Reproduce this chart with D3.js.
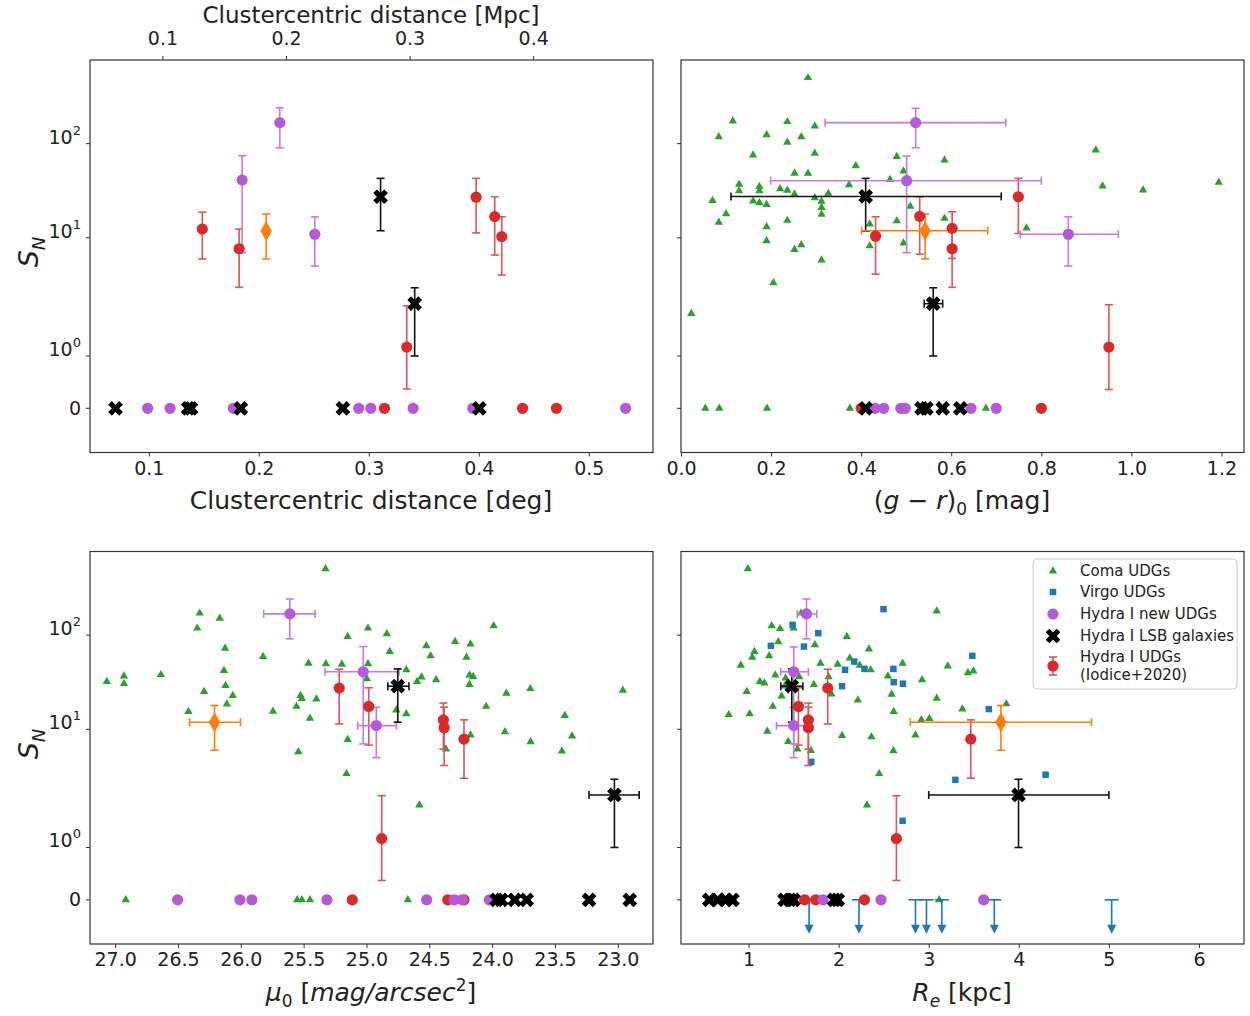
<!DOCTYPE html>
<html>
<head>
<meta charset="utf-8">
<title>Specific frequency of GCs in Hydra I UDGs</title>
<script src="https://d3js.org/d3.v7.min.js"></script>
<style>
body { margin: 0; background: #fff; }
svg text { font-family: "DejaVu Sans", sans-serif; fill: #222; }
</style>
</head>
<body>
<div id="chart"></div>
<script>
// ---- data: [x, S_N, S_N low, S_N high, x low, x high] ----
// panel 1: clustercentric distance [deg]
const iodiceDist = [[0.1486,12.4,5.96,18.7],[0.1821,7.66,2.98,12.4],[0.3345,1.17,0.37,1.96],[0.3976,27.0,11.3,42.8],
  [0.4145,16.8,6.56,27.3],[0.4209,10.3,4.03,16.7],[0.3142,0],[0.4398,0],[0.4706,0]];
const newUdgDist = [[0.1848,41.1,6.95,74.4],[0.2191,167,90.4,240],[0.2509,10.9,5.02,16.7],
  [0.0989,0],[0.1193,0],[0.1769,0],[0.2908,0],[0.3018,0],[0.3403,0],[0.3945,0],[0.5335,0]];
const lsbDist = [[0.3107,27.3,11.9,42.8],[0.3417,2.0,1.0,2.95],
  [0.0697,0],[0.1357,0],[0.1384,0],[0.1836,0],[0.2764,0],[0.4005,0]];
const orangeDist = [[0.2067,11.8,5.96,17.9]];

// panel 2: (g-r)_0 [mag]
const comaColor = [[0.282,501],[0.115,174],[0.236,171],[0.297,154],[0.084,118],[0.190,124],[0.267,118],[0.236,103],
  [0.921,85.4],[0.160,75.6],[0.297,78.8],[0.479,72.7],[0.585,66.9],[0.388,58.2],[0.252,48.4],[0.282,48.4],[0.494,51],
  [0.129,37],[0.174,35],[0.129,31.6],[0.174,31.6],[0.220,33.2],[0.236,32],[0.252,29.2],[0.327,29.6],[0.373,36.5],
  [0.464,41.6],[0.936,35.5],[1.026,32.1],[1.194,38.7],[0.070,24.8],[0.160,24.6],[0.174,23.5],[0.190,22.6],[0.297,26.6],
  [0.312,24.4],[0.312,21.0],[0.312,17.7],[0.100,18.0],[0.084,14.6],[0.236,15.3],[0.190,13.1],[0.419,14.0],[0.479,15.1],
  [0.509,21.6],[0.585,16.1],[0.767,12.7],[0.190,9.3],[0.267,8.4],[0.252,7.5],[0.419,8.2],[0.494,8.8],[0.312,5.8],
  [0.205,3.33],[0.023,1.81],[0.054,0],[0.085,0],[0.191,0],[0.375,0],[0.677,0]];
const iodiceColor = [[0.749,27.3,11.1,42.8],[0.530,16.9,6.7,27.3],[0.432,10.4,4.12,16.7],[0.602,12.6,6.05,18.9],
  [0.602,7.66,2.98,12.2],[0.950,1.17,0.36,1.98],[0.40,0],[0.80,0]];
const newUdgColor = [[0.521,167,90.4,237,0.320,0.721],[0.501,40.4,6.95,73.7,0.199,0.800],[0.860,10.9,5.02,16.7,0.753,0.971],
  [0.431,0],[0.450,0],[0.488,0],[0.498,0],[0.644,0],[0.700,0]];
const lsbColor = [[0.410,27.5,11.8,42.8,0.111,0.711],[0.560,2.0,1.0,2.95,0.540,0.581],
  [0.41,0],[0.534,0],[0.545,0],[0.581,0],[0.62,0]];
const orangeColor = [[0.542,11.9,5.98,17.9,0.401,0.681]];

// panel 3: mu_0 [mag/arcsec^2]
const comaMu = [[25.326,506],[26.327,171],[26.168,151],[26.347,118.5],[24.988,118.5],[25.150,96.5],[24.838,103],[23.988,125.6],
  [26.125,72.5],[25.823,59.2],[24.295,85.4],[24.172,80.5],[24.524,77],[24.815,66.9],[24.490,60.3],[24.204,58.2],[25.461,50.3],
  [25.323,49.6],[25.196,49],[24.988,49.6],[24.683,42.8],[26.134,42],[27.066,32.2],[26.930,36.7],[26.930,30.5],[26.636,38],
  [26.122,29.2],[26.292,25.2],[26.064,22.8],[26.111,18.5],[26.417,15.4],[25.525,22.8],[25.514,21.2],[25.399,21],[25.557,17.5],
  [25.744,15.5],[25.450,13.1],[24.997,34.3],[24.597,32.2],[24.562,35.9],[24.446,33.5],[24.180,37.7],[24.151,36.3],[24.180,29.9],
  [23.887,24.1],[23.696,27],[22.960,26],[24.763,16],[24.683,14.6],[24.048,17.5],[23.422,14],[23.898,9.4],[24.172,8.7],
  [23.694,7.36],[23.364,8.5],[23.445,5.86],[25.150,7.8],[25.542,5.76],[25.159,3.38],[24.368,6.16],[24.579,1.81],
  [26.916,0],[25.551,0],[25.514,0],[25.450,0],[24.671,0]];
const iodiceMu = [[25.217,27.4,11.4,43.5],[24.982,17.5,6.8,27.6],[24.388,12.6,6.16,19.0],[24.382,10.4,4.13,17.2],
  [24.224,7.87,3.03,12.6],[24.879,1.17,0.37,1.99],[25.113,0],[24.353,0],[24.224,0]];
const newUdgMu = [[25.610,168,91.4,242,25.818,25.409],[25.026,40.8,7.0,75.6,25.330,24.741],[24.922,10.96,5.0,17.2,25.070,24.761],
  [26.503,0],[26.007,0],[25.912,0],[25.315,0],[24.521,0],[24.301,0],[24.238,0],[24.022,0]];
const lsbMu = [[24.751,28.7,11.9,43.8,24.830,24.662],[23.027,2.01,1.0,2.95,23.229,22.830],
  [23.965,0],[23.927,0],[23.820,0],[23.725,0],[23.229,0],[22.905,0]];
const orangeMu = [[26.209,11.9,6.0,17.9,26.408,26.003]];

// panel 4: R_e [kpc]
const comaRe = [[0.992,506],[1.582,171],[3.089,180],[1.257,125.6],[1.35,117],[1.50,118.5],[2.091,96.5],[1.33,85],[1.737,79],
  [1.065,67],[2.336,71],[1.228,60.3],[1.041,58],[0.914,47.8],[1.798,50.3],[1.989,49],[2.124,57],[2.234,47.8],[2.356,42.8],
  [2.71,50.3],[3.211,47],[3.435,39.8],[3.496,41.6],[1.297,37.7],[1.411,35],[1.562,36],[1.888,36],[2.547,36.7],[1.126,32.2],
  [1.175,31],[1.725,29.9],[1.399,28.7],[2.926,33.5],[0.98,25.2],[1.366,22.6],[1.920,23.7],[2.588,23.5],[3.089,21.3],
  [2.213,20.4],[1.269,17.5],[0.78,14.3],[1.012,14.6],[2.612,15.4],[3.374,16.4],[3.862,18.6],[2.918,12.6],[3.007,13],
  [1.208,9.5],[2.038,8.6],[2.364,8.3],[2.853,8.7],[1.44,7.4],[1.542,6.16],[1.692,5.95],[2.608,5.9],[2.45,3.38],[2.315,1.81],
  [3.117,0]];
const virgoRe = [[2.498,188.9],[1.489,128.6],[1.774,105],[1.248,77],[1.615,75.6],[3.484,60.3],[2.173,52.4],[2.071,42.8],
  [2.287,43.8],[2.608,43.8],[2.612,31.7],[2.714,30.5],[2.038,28.7],[3.667,16.4],[1.696,4.52],[3.296,2.91],[4.298,3.3],[2.71,1.51]];
const virgoUpperLimits = [1.672, 2.226, 2.853, 2.975, 3.146, 3.728, 5.031];
const iodiceRe = [[1.879,27.4,11.4,43.5],[1.554,17.5,6.8,27.6],[1.664,12.6,6.16,19.0],[1.664,10.4,4.13,17.2],
  [3.467,7.87,3.03,12.6],[2.641,1.17,0.37,1.99],[1.623,0],[1.745,0],[2.287,0]];
const newUdgRe = [[1.643,168,91.4,242,1.54,1.757],[1.501,40.8,7.0,75,1.358,1.664],[1.501,10.96,5.0,17.2,1.31,1.70],
  [1.827,0],[2.47,0],[3.61,0]];
const lsbRe = [[1.480,28.7,11.9,43.8,1.358,1.603],[3.997,2.01,1.0,2.95,3.0,5.0],
  [0.564,0],[0.658,0],[0.748,0],[0.821,0],[1.399,0],[1.46,0],[1.5,0],[1.949,0],[1.99,0]];
const orangeRe = [[3.801,11.9,6.0,17.9,2.796,4.807]];

const yTicks = [0, 1, 10, 100];
const yTickExp = ["", "0", "1", "2"];
const distTicks = [0.1, 0.2, 0.3, 0.4, 0.5];
const mpcTicks = [0.1, 0.2, 0.3, 0.4];
const colorTicks = [0, 0.2, 0.4, 0.6, 0.8, 1.0, 1.2];
const muTicks = [27, 26.5, 26, 25.5, 25, 24.5, 24, 23.5, 23];
const reTicks = [1, 2, 3, 4, 5, 6];
const legendItems = ["Coma UDGs", "Virgo UDGs", "Hydra I new UDGs", "Hydra I LSB galaxies", "Hydra I UDGs", "(Iodice+2020)"];

// ---- layout ----
const W = 1250, H = 1016;
const rows = { top: [60, 452.5], bottom: [551.5, 944] };
const cols = { left: [90, 653], right: [681, 1244] };
const U_DOMAIN = [-0.469, 3.698];
const DEG_TO_MPC = 0.89;

const C = {
  green: "#2ca02c", blue: "#1f77b4", purple: "#b45ad6", purpleBar: "#c27ddc",
  red: "#d92a2a", redBar: "#d8575a", black: "#000", orange: "#ff7f0e"
};

// matplotlib style symlog, linthresh 2, linscale 1
const LINTHRESH = 2, LINADJ = 1 / (1 - 1 / 10);
const symlog = v => {
  const a = Math.abs(v);
  return a <= LINTHRESH ? v * LINADJ / LINTHRESH : Math.sign(v) * (LINADJ + Math.log10(a / LINTHRESH));
};

const svg = d3.select("#chart").append("svg").attr("width", W).attr("height", H);

function richText(sel, parts) {
  let shift = 0;
  parts.forEach(p => {
    const target = p.sub ? p.sub : (p.sup ? -p.sup : 0);
    const t = sel.append("tspan").text(p.t).attr("dy", target - shift);
    if (p.italic) t.attr("font-style", "italic");
    if (p.size) t.attr("font-size", p.size);
    shift = target;
  });
}

function makePanel(col, row, xDomain, ticks, fmt) {
  const [x0, x1] = cols[col], [y0, y1] = rows[row];
  const x = d3.scaleLinear().domain(xDomain).range([x0, x1]);
  const yl = d3.scaleLinear().domain(U_DOMAIN).range([y1, y0]);
  const y = v => yl(symlog(v));
  const g = svg.append("g");
  const p = { x, y, g, x0, x1, y0, y1, col };

  // x axis
  const ax = g.append("g").attr("transform", `translate(0,${y1})`)
    .call(d3.axisBottom(x).tickValues(ticks).tickSize(4).tickPadding(5).tickFormat(d3.format(fmt)));
  styleAxis(ax);

  // y ticks
  const yt = g.append("g").selectAll("g").data(yTicks).join("g")
    .attr("transform", d => `translate(${x0},${y(d)})`);
  yt.append("line").attr("x1", -4).attr("x2", 0).attr("stroke", "#333").attr("stroke-width", 1);
  if (col === "left") {
    yt.append("text").attr("x", -9).attr("dy", "0.35em").attr("text-anchor", "end").attr("font-size", 19)
      .each(function (d, i) {
        const s = d3.select(this);
        if (d === 0) s.text("0");
        else richText(s, [{ t: "10" }, { t: yTickExp[i], sup: 9, size: 13 }]);
      });
  }
  return p;
}

function styleAxis(ax) {
  ax.select(".domain").remove();
  ax.selectAll(".tick line").attr("stroke", "#333");
  ax.selectAll(".tick text").attr("font-size", 19).attr("fill", "#222")
    .attr("font-family", "DejaVu Sans, sans-serif");
}

function frame(p) {
  p.g.append("rect").attr("x", p.x0).attr("y", p.y0)
    .attr("width", p.x1 - p.x0).attr("height", p.y1 - p.y0)
    .attr("fill", "none").attr("stroke", "#333").attr("stroke-width", 1.2);
}

function errorBars(p, data, color, cap = 4) {
  const g = p.g.append("g").attr("stroke", color).attr("stroke-width", 1.6).attr("fill", "none");
  const withY = data.filter(d => d.length > 2);
  g.selectAll(".ey").data(withY).join("line")
    .attr("x1", d => p.x(d[0])).attr("x2", d => p.x(d[0]))
    .attr("y1", d => p.y(d[2])).attr("y2", d => p.y(d[3]));
  g.selectAll(".ecap").data(withY.flatMap(d => [[d[0], d[2]], [d[0], d[3]]])).join("line")
    .attr("x1", d => p.x(d[0]) - cap).attr("x2", d => p.x(d[0]) + cap)
    .attr("y1", d => p.y(d[1])).attr("y2", d => p.y(d[1]));
  const withX = data.filter(d => d.length > 4);
  g.selectAll(".ex").data(withX).join("line")
    .attr("x1", d => p.x(d[4])).attr("x2", d => p.x(d[5]))
    .attr("y1", d => p.y(d[1])).attr("y2", d => p.y(d[1]));
  g.selectAll(".excap").data(withX.flatMap(d => [[d[4], d[1]], [d[5], d[1]]])).join("line")
    .attr("x1", d => p.x(d[0])).attr("x2", d => p.x(d[0]))
    .attr("y1", d => p.y(d[1]) - cap).attr("y2", d => p.y(d[1]) + cap);
}

const SYM = {
  tri: d3.symbol(d3.symbolTriangle, 30)(),
  sq: d3.symbol(d3.symbolSquare, 42)(),
  x: d3.symbol(d3.symbolCross, 135)(),
  diamond: d3.symbol(d3.symbolDiamond, 115)()
};

function markers(p, data, kind, color) {
  const g = p.g.append("g");
  if (kind === "circle") {
    g.selectAll("circle").data(data).join("circle")
      .attr("cx", d => p.x(d[0])).attr("cy", d => p.y(d[1])).attr("r", 5.6).attr("fill", color);
  } else {
    g.selectAll("path").data(data).join("path")
      .attr("d", SYM[kind]).attr("fill", color)
      .attr("transform", d => `translate(${p.x(d[0])},${p.y(d[1])})${kind === "x" ? " rotate(45)" : ""}`);
  }
}

function hydraSeries(p, red, purple, black, orange) {
  errorBars(p, red, C.redBar);
  errorBars(p, purple, C.purpleBar);
  errorBars(p, black, "#111");
  errorBars(p, orange, C.orange);
  markers(p, red, "circle", C.red);
  markers(p, purple, "circle", C.purple);
  markers(p, black, "x", C.black);
  markers(p, orange, "diamond", C.orange);
}

// ---- panel 1 ----
const p1 = makePanel("left", "top", [0.0465, 0.5584], distTicks, ".1f");
hydraSeries(p1, iodiceDist, newUdgDist, lsbDist, orangeDist);
const mpc = d3.scaleLinear().domain(p1.x.domain().map(d => d * DEG_TO_MPC)).range(p1.x.range());
styleAxis(p1.g.append("g").attr("transform", `translate(0,${p1.y0})`)
  .call(d3.axisTop(mpc).tickValues(mpcTicks).tickSize(4).tickPadding(11).tickFormat(d3.format(".1f"))));
frame(p1);

// ---- panel 2 ----
const p2 = makePanel("right", "top", [0, 1.25], colorTicks, ".1f");
markers(p2, comaColor, "tri", C.green);
hydraSeries(p2, iodiceColor, newUdgColor, lsbColor, orangeColor);
frame(p2);

// ---- panel 3 ----
const p3 = makePanel("left", "bottom", [27.2, 22.72], muTicks, ".1f");
markers(p3, comaMu, "tri", C.green);
hydraSeries(p3, iodiceMu, newUdgMu, lsbMu, orangeMu);
frame(p3);

// ---- panel 4 ----
const p4 = makePanel("right", "bottom", [0.25, 6.5], reTicks, "d");
markers(p4, comaRe, "tri", C.green);
markers(p4, virgoRe, "sq", C.blue);
const ul = p4.g.append("g").selectAll("g").data(virgoUpperLimits).join("g")
  .attr("transform", d => `translate(${p4.x(d)},${p4.y(0)})`);
ul.append("line").attr("x1", -7).attr("x2", 7).attr("stroke", C.blue).attr("stroke-width", 1.6);
ul.append("line").attr("y1", 0).attr("y2", 28).attr("stroke", C.blue).attr("stroke-width", 1.6);
ul.append("path").attr("d", "M-4.5,25L4.5,25L0,34Z").attr("fill", C.blue);
hydraSeries(p4, iodiceRe, newUdgRe, lsbRe, orangeRe);
frame(p4);

// ---- axis labels ----
const lab = (x, y, size, parts, rot) => {
  const t = svg.append("text").attr("text-anchor", "middle").attr("font-size", size)
    .attr("transform", `translate(${x},${y})${rot ? " rotate(-90)" : ""}`);
  richText(t, parts);
};
lab(371, 23, 23, [{ t: "Clustercentric distance [Mpc]" }]);
lab(371, 509, 25, [{ t: "Clustercentric distance [deg]" }]);
lab(962, 509, 25, [{ t: "(" }, { t: "g", italic: true }, { t: " − " }, { t: "r", italic: true }, { t: ")" },
  { t: "0", sub: 6, size: 17 }, { t: " [mag]" }]);
lab(371, 1001, 25, [{ t: "μ", italic: true }, { t: "0", sub: 6, size: 17 }, { t: " [" }, { t: "mag/arcsec", italic: true },
  { t: "2", sup: 10, size: 17 }, { t: "]" }]);
lab(962, 1001, 25, [{ t: "R", italic: true }, { t: "e", italic: true, sub: 6, size: 17 }, { t: " [kpc]" }]);
[[38, 252], [38, 744]].forEach(([x, y]) =>
  lab(x, y, 27, [{ t: "S", italic: true }, { t: "N", italic: true, sub: 7, size: 18 }], true));

// ---- legend ----
const lg = svg.append("g").attr("transform", "translate(1033,559)");
lg.append("rect").attr("width", 204).attr("height", 130).attr("rx", 4)
  .attr("fill", "#fff").attr("fill-opacity", 0.85).attr("stroke", "#ccc");
const rowsY = [12, 33, 55, 77, 98, 116];
lg.selectAll("text").data(legendItems).join("text")
  .attr("x", 47).attr("y", (d, i) => rowsY[i]).attr("dy", "0.35em").attr("font-size", 15).text(d => d);
lg.append("path").attr("d", SYM.tri).attr("fill", C.green).attr("transform", `translate(20,${rowsY[0]})`);
lg.append("path").attr("d", SYM.sq).attr("fill", C.blue).attr("transform", `translate(20,${rowsY[1]})`);
lg.append("circle").attr("cx", 20).attr("cy", rowsY[2]).attr("r", 5.6).attr("fill", C.purple);
lg.append("path").attr("d", SYM.x).attr("fill", C.black).attr("transform", `translate(20,${rowsY[3]}) rotate(45)`);
const ry = (rowsY[4] + rowsY[5]) / 2;
lg.append("line").attr("x1", 20).attr("x2", 20).attr("y1", ry - 9).attr("y2", ry + 9).attr("stroke", C.redBar).attr("stroke-width", 1.6);
[-9, 9].forEach(o => lg.append("line").attr("x1", 16).attr("x2", 24).attr("y1", ry + o).attr("y2", ry + o)
  .attr("stroke", C.redBar).attr("stroke-width", 1.6));
lg.append("circle").attr("cx", 20).attr("cy", ry).attr("r", 5.6).attr("fill", C.red);
</script>
</body>
</html>
